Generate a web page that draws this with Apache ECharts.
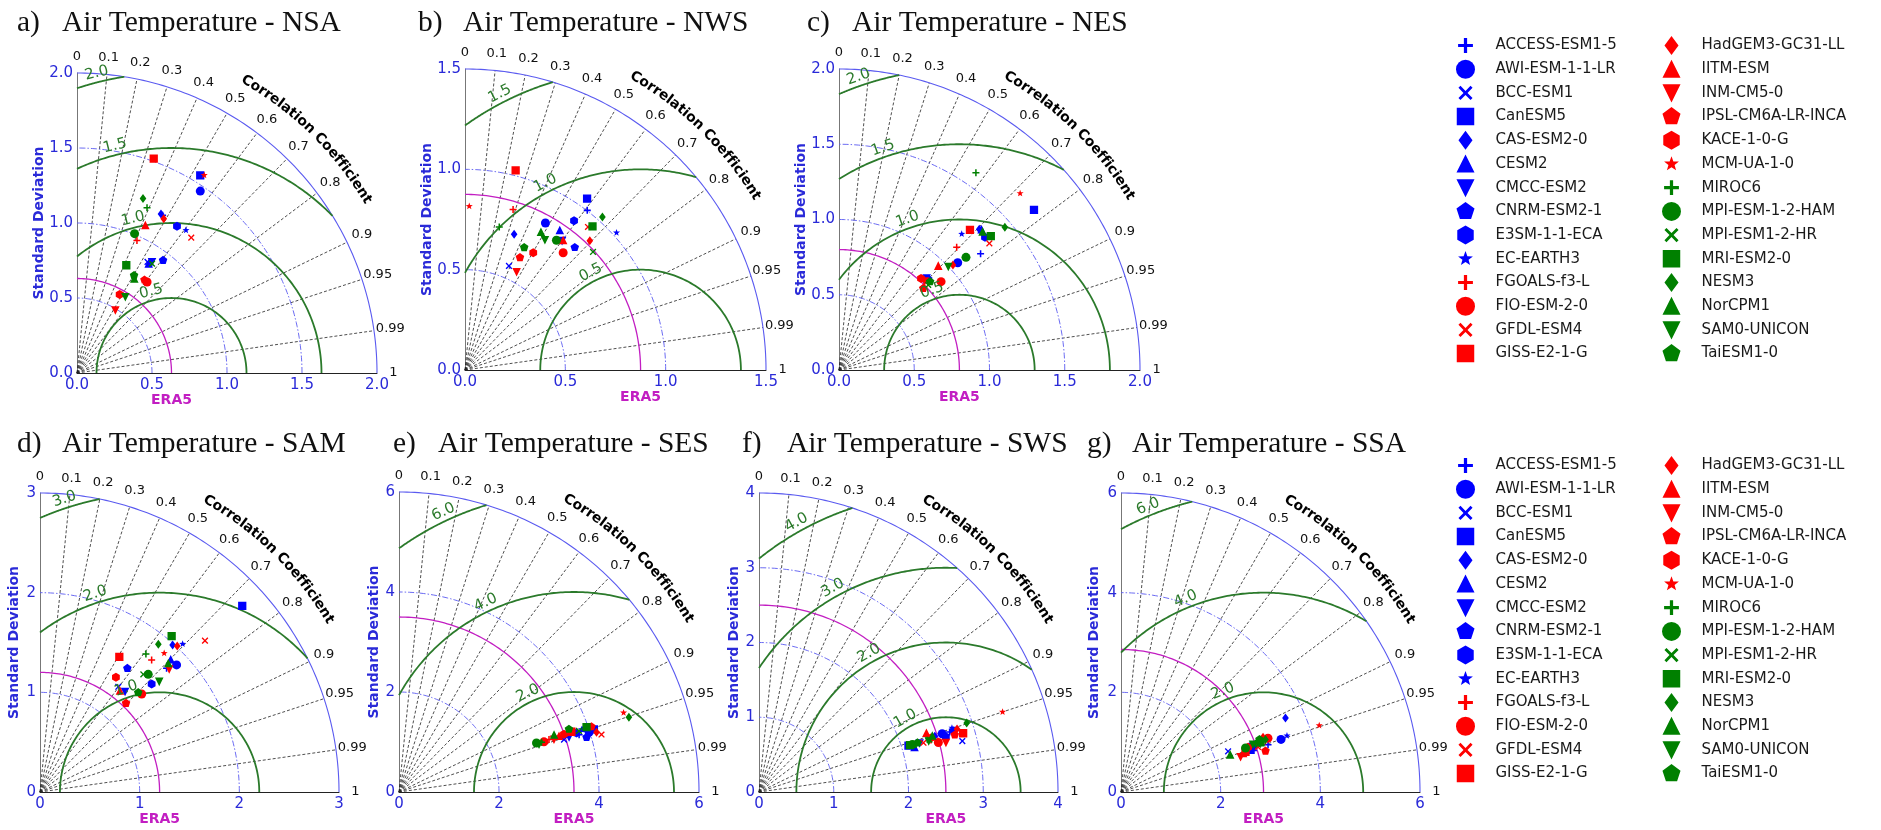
<!DOCTYPE html>
<html><head><meta charset="utf-8">
<script src="https://cdn.jsdelivr.net/npm/echarts@6/dist/echarts.min.js"></script>
<style>html,body{margin:0;padding:0;background:#fff}#c{width:1881px;height:830px}</style>
</head><body><div id="c"></div>
<script>
// ---------------- DATA ----------------
const MODELS = ['ACCESS-ESM1-5','AWI-ESM-1-1-LR','BCC-ESM1','CanESM5','CAS-ESM2-0','CESM2','CMCC-ESM2','CNRM-ESM2-1','E3SM-1-1-ECA','EC-EARTH3',
  'FGOALS-f3-L','FIO-ESM-2-0','GFDL-ESM4','GISS-E2-1-G','HadGEM3-GC31-LL','IITM-ESM','INM-CM5-0','IPSL-CM6A-LR-INCA','KACE-1-0-G','MCM-UA-1-0',
  'MIROC6','MPI-ESM-1-2-HAM','MPI-ESM1-2-HR','MRI-ESM2-0','NESM3','NorCPM1','SAM0-UNICON','TaiESM1-0'];
const MODEL_COLORS = ['#0000ff','#0000ff','#0000ff','#0000ff','#0000ff','#0000ff','#0000ff','#0000ff','#0000ff','#0000ff',
  '#ff0000','#ff0000','#ff0000','#ff0000','#ff0000','#ff0000','#ff0000','#ff0000','#ff0000','#ff0000',
  '#008000','#008000','#008000','#008000','#008000','#008000','#008000','#008000'];
const MODEL_MARKERS = ['plus','circle','x','square','thinDiamond','triUp','triDown','pentagon','hexagon','star',
  'plus','circle','x','square','thinDiamond','triUp','triDown','pentagon','hexagon','star',
  'plus','circle','x','square','thinDiamond','triUp','triDown','pentagon'];

const PANEL_LETTERS = ['a)','b)','c)','d)','e)','f)','g)'];
const PANEL_REGIONS = ['NSA','NWS','NES','SAM','SES','SWS','SSA'];
const REF_STD = [0.63, 0.875, 0.80, 1.2, 3.5, 2.5, 2.86];
const STD_MAX = [2, 1.5, 2, 3, 6, 4, 6];
const STD_STEP = [0.5, 0.5, 0.5, 1, 2, 1, 2];
const RMS_LEVELS = [[0.5,1.0,1.5,2.0],[0.5,1.0,1.5],[0.5,1.0,1.5,2.0],[1.0,2.0,3.0],[2.0,4.0,6.0],[1.0,2.0,3.0,4.0],[2.0,4.0,6.0]];
const CORR_TICKS = [0,0.1,0.2,0.3,0.4,0.5,0.6,0.7,0.8,0.9,0.95,0.99,1];
const CORR_LINES = [0.1,0.2,0.3,0.4,0.5,0.6,0.7,0.8,0.9,0.95,0.99];

// standard deviation and correlation of each model, per region (same order as MODELS)
const STD_NSA  = [1.196,1.465,0.877,1.553,1.199,0.872,0.893,0.945,1.184,1.197,0.970,0.766,1.181,1.518,1.180,1.085,0.490,0.766,0.596,1.568,1.197,1.005,0.884,0.790,1.243,0.736,0.600,0.753];
const CORR_NSA = [0.477,0.561,0.536,0.529,0.467,0.548,0.560,0.607,0.563,0.607,0.412,0.610,0.645,0.337,0.490,0.420,0.522,0.587,0.477,0.541,0.390,0.382,0.566,0.416,0.354,0.519,0.537,0.505];
const STD_NWS  = [1.002,0.835,0.563,1.049,0.720,0.842,0.805,0.820,0.921,1.019,0.835,0.762,0.940,1.026,0.895,0.811,0.552,0.624,0.676,0.816,0.733,0.791,0.868,0.957,1.025,0.785,0.760,0.678];
const CORR_NWS = [0.608,0.480,0.389,0.580,0.340,0.561,0.601,0.667,0.590,0.741,0.287,0.642,0.652,0.246,0.695,0.603,0.466,0.439,0.503,0.026,0.233,0.576,0.735,0.664,0.668,0.482,0.524,0.435];
const STD_NES  = [1.217,1.063,0.835,1.676,1.320,1.330,0.843,0.846,1.311,1.217,1.130,0.897,1.306,1.274,1.030,0.956,0.820,0.780,0.817,1.681,1.596,1.128,0.819,1.345,1.454,1.325,0.999,0.843];
const CORR_NES = [0.773,0.742,0.695,0.773,0.706,0.712,0.691,0.701,0.740,0.670,0.692,0.756,0.765,0.683,0.735,0.690,0.695,0.718,0.667,0.716,0.570,0.748,0.724,0.750,0.758,0.720,0.727,0.718];
const STD_SAM  = [1.776,1.872,1.316,2.757,1.986,1.868,1.319,1.519,1.558,2.062,1.734,1.417,2.246,1.573,2.010,1.294,1.788,1.240,1.380,1.868,1.745,1.604,1.571,2.048,1.900,1.823,1.630,1.402];
const CORR_SAM = [0.715,0.732,0.597,0.736,0.670,0.702,0.647,0.577,0.719,0.694,0.646,0.720,0.737,0.506,0.685,0.620,0.725,0.696,0.552,0.667,0.609,0.677,0.660,0.645,0.625,0.706,0.734,0.703];
const STD_SES  = [3.780,3.985,3.463,4.095,3.700,3.915,3.573,3.908,3.741,3.858,3.178,3.068,4.210,3.653,4.128,3.390,3.273,4.064,3.495,4.763,3.020,2.919,3.801,3.969,4.835,3.306,2.957,3.623];
const CORR_SES = [0.953,0.954,0.953,0.952,0.946,0.945,0.952,0.960,0.949,0.946,0.944,0.945,0.962,0.944,0.957,0.944,0.947,0.947,0.944,0.943,0.944,0.942,0.947,0.945,0.951,0.938,0.947,0.938];
const STD_SWS  = [2.673,2.571,2.804,2.094,2.467,2.165,2.246,2.726,2.607,2.720,2.404,2.489,2.297,2.842,2.780,2.375,2.586,2.728,2.410,3.430,2.195,2.148,2.385,2.116,2.928,2.438,2.370,2.220];
const CORR_SWS = [0.954,0.953,0.970,0.955,0.953,0.961,0.957,0.954,0.959,0.949,0.957,0.964,0.958,0.961,0.953,0.943,0.967,0.960,0.954,0.950,0.957,0.955,0.956,0.955,0.949,0.951,0.958,0.955];
const STD_SSA  = [3.099,3.380,2.299,2.735,3.619,2.799,2.679,2.862,2.758,3.517,3.074,3.141,2.894,2.625,3.055,2.571,2.500,3.014,2.704,4.196,2.872,2.650,2.909,2.973,3.084,2.315,2.815,2.972];
const CORR_SSA = [0.952,0.950,0.935,0.951,0.912,0.947,0.952,0.943,0.943,0.947,0.943,0.939,0.950,0.952,0.933,0.953,0.960,0.962,0.943,0.948,0.940,0.943,0.945,0.942,0.940,0.946,0.941,0.935];

const PANEL_STD  = [STD_NSA, STD_NWS, STD_NES, STD_SAM, STD_SES, STD_SWS, STD_SSA];
const PANEL_CORR = [CORR_NSA, CORR_NWS, CORR_NES, CORR_SAM, CORR_SES, CORR_SWS, CORR_SSA];

// ---------------- LAYOUT ----------------
const LAYOUT = [
  {ox:77,  oy:373, R:300, sdx:-38, tx:17,   ty:8,   rmsAng:104},
  {ox:465, oy:370, R:301, sdx:-38, tx:418,  ty:8,   rmsAng:117},
  {ox:839, oy:370, R:301, sdx:-38, tx:807,  ty:8,   rmsAng:109},
  {ox:40,  oy:792, R:299, sdx:-26, tx:17,   ty:429, rmsAng:108},
  {ox:399, oy:792, R:300, sdx:-25, tx:393,  ty:429, rmsAng:115},
  {ox:759, oy:792, R:299, sdx:-25, tx:742,  ty:429, rmsAng:119},
  {ox:1121,oy:792, R:299, sdx:-27, tx:1087, ty:429, rmsAng:112}
];
const C_BLUE = '#2a2ad8', C_STDARC = '#5a5af0', C_GREEN = '#2b7a2b', C_MAG = '#c21ec2';

// ---------------- SYMBOLS ----------------
function poly(pts){ return pts.map((p,i)=>(i?'L':'M')+p[0].toFixed(3)+','+p[1].toFixed(3)).join(' ')+' Z'; }
const PAD = ' M-1,-1 L-0.998,-1 L-1,-0.998 Z M1,1 L0.998,1 L1,0.998 Z';
function regular(n, r, start){ const a=[]; for(let k=0;k<n;k++){const t=(start+360*k/n)*Math.PI/180; a.push([r*Math.cos(t), r*Math.sin(t)]);} return a; }
function cross(a, t, rot){
  const b=[[-a,-t],[-t,-t],[-t,-a],[t,-a],[t,-t],[a,-t],[a,t],[t,t],[t,a],[-t,a],[-t,t],[-a,t]];
  const r=rot*Math.PI/180, c=Math.cos(r), s=Math.sin(r);
  return b.map(p=>[p[0]*c-p[1]*s, p[0]*s+p[1]*c]);
}
function starPts(ro, ri){ const a=[]; for(let k=0;k<10;k++){const t=(-90+36*k)*Math.PI/180, r=k%2?ri:ro; a.push([r*Math.cos(t), r*Math.sin(t)]);} return a; }
const SYMBOLS = {
  plus: 'path://'+poly(cross(0.78,0.17,0))+PAD,
  x: 'path://'+poly(cross(0.9,0.15,45))+PAD,
  circle: 'circle',
  square: 'path://'+poly([[-0.92,-0.92],[0.92,-0.92],[0.92,0.92],[-0.92,0.92]])+PAD,
  thinDiamond: 'path://'+poly([[0,-1],[0.74,0],[0,1],[-0.74,0]])+PAD,
  triUp: 'path://'+poly([[0,-1],[0.95,0.9],[-0.95,0.9]])+PAD,
  triDown: 'path://'+poly([[0,1],[0.95,-0.9],[-0.95,-0.9]])+PAD,
  pentagon: 'path://'+poly(regular(5,1,-90))+PAD,
  hexagon: 'path://'+poly(regular(6,1,-90))+PAD,
  star: 'path://'+poly(starPts(0.82,0.34))+PAD
};

// ---------------- BUILD ----------------
const measureCtx = document.createElement('canvas').getContext('2d');
const grids=[], xAxes=[], yAxes=[], series=[], titles=[];
const DEG = Math.PI/180;

LAYOUT.forEach((L, p) => {
  const M = STD_MAX[p], ref = REF_STD[p];
  const dec = STD_STEP[p] < 1 ? 1 : 0;
  grids.push({left:L.ox, top:L.oy-L.R, width:L.R, height:L.R});
  xAxes.push({gridIndex:p, type:'value', min:0, max:M, interval:STD_STEP[p],
    axisLine:{show:true, onZero:false, lineStyle:{color:'#222', width:1}}, axisTick:{show:false}, splitLine:{show:false},
    axisLabel:{show:true, showMinLabel:true, showMaxLabel:true, color:C_BLUE, fontSize:15, fontFamily:'DejaVu Sans', margin:5, formatter:v=>v.toFixed(dec)}});
  yAxes.push({gridIndex:p, type:'value', min:0, max:M, interval:STD_STEP[p],
    axisLine:{show:true, onZero:false, lineStyle:{color:'#777', width:1}}, axisTick:{show:false}, splitLine:{show:false},
    axisLabel:{show:true, showMinLabel:true, showMaxLabel:true, color:C_BLUE, fontSize:15, fontFamily:'DejaVu Sans', margin:4, formatter:v=>v.toFixed(dec)}});

  titles.push({left:L.tx, top:L.ty, padding:0,
    text:'{l|'+PANEL_LETTERS[p]+'}Air Temperature - '+PANEL_REGIONS[p],
    textStyle:{fontFamily:'Liberation Serif', fontSize:29.5, fontWeight:'normal', color:'#111',
      rich:{l:{width:45, fontFamily:'Liberation Serif', fontSize:29.5, color:'#111'}}}});

  // ---- line geometry in data space ----
  const lines = [];
  const arc = (r, a0, a1, n) => { const pts=[]; for(let i=0;i<=n;i++){const t=a0+(a1-a0)*i/n; pts.push([r*Math.cos(t), r*Math.sin(t)]);} return pts; };
  CORR_LINES.forEach(c => { const s=Math.sqrt(1-c*c); lines.push({pts:[[0,0],[M*c,M*s]], stroke:'#222', w:0.8, dash:[3,2]}); });
  for (let v = STD_STEP[p]; v < M - 1e-9; v += STD_STEP[p]) lines.push({pts:arc(v,0,Math.PI/2,90), stroke:C_STDARC, w:0.9, dash:[6,2,1.5,2]});
  lines.push({pts:arc(M,0,Math.PI/2,120), stroke:C_STDARC, w:1.1, dash:null});
  lines.push({pts:arc(ref,0,Math.PI/2,90), stroke:C_MAG, w:1.3, dash:null});
  RMS_LEVELS[p].forEach(Lv => {
    let c0 = (M*M - ref*ref - Lv*Lv)/(2*ref*Lv); c0 = Math.max(-1, Math.min(1, c0));
    const t0 = Math.acos(c0);
    const t1 = Lv <= ref ? Math.PI : Math.acos(-ref/Lv);
    const pts=[]; for(let i=0;i<=120;i++){const t=t0+(t1-t0)*i/120; pts.push([ref+Lv*Math.cos(t), Lv*Math.sin(t)]);}
    lines.push({pts, stroke:C_GREEN, w:1.8, dash:null});
  });
  series.push({type:'custom', xAxisIndex:p, yAxisIndex:p, silent:true, z:1, clip:false,
    data: lines.map(()=>[0,0]),
    renderItem:(params, api) => {
      const l = lines[params.dataIndex];
      return {type:'polyline', shape:{points:l.pts.map(q=>api.coord(q))},
        style:{stroke:l.stroke, lineWidth:l.w, lineDash:l.dash, fill:null}};
    }});

  // ---- texts ----
  const texts = [];
  CORR_TICKS.forEach(c => { const s=Math.sqrt(1-c*c), r=M*1.055;
    texts.push({x:r*c, y:r*s, dx:0, dy:0, text:String(c), rot:0, fill:'#111', font:'13px "DejaVu Sans"', align:'center', va:'middle'}); });
  const label = 'Correlation Coefficient', cfont = 'bold 14px "DejaVu Sans"';
  measureCtx.font = cfont;
  const widths = label.split('').map(ch => measureCtx.measureText(ch).width);
  const total = widths.reduce((a,b)=>a+b,0);
  const rPx = L.R*1.125, rD = M*1.125;
  let acc = 0; const phiC = 45.5*DEG;
  label.split('').forEach((ch,i) => {
    const mid = acc + widths[i]/2; acc += widths[i];
    const phi = phiC + (total/2 - mid)/rPx;
    if (ch !== ' ') texts.push({x:rD*Math.cos(phi), y:rD*Math.sin(phi), dx:0, dy:0, text:ch, rot:phi-Math.PI/2, fill:'#000', font:cfont, align:'center', va:'middle'});
  });
  RMS_LEVELS[p].forEach(Lv => { const t=L.rmsAng*DEG;
    texts.push({x:ref+Lv*Math.cos(t), y:Lv*Math.sin(t), dx:9*Math.cos(t), dy:-9*Math.sin(t), text:Lv.toFixed(1), rot:t-Math.PI/2, fill:C_GREEN, font:'15px "DejaVu Sans"', align:'center', va:'middle'}); });
  texts.push({x:0, y:M/2, dx:L.sdx, dy:0, text:'Standard Deviation', rot:Math.PI/2, fill:C_BLUE, font:'bold 14px "DejaVu Sans"', align:'center', va:'middle'});
  texts.push({x:ref, y:0, dx:0, dy:27, text:'ERA5', rot:0, fill:C_MAG, font:'bold 14px "DejaVu Sans"', align:'center', va:'middle'});
  series.push({type:'custom', xAxisIndex:p, yAxisIndex:p, silent:true, z:4, clip:false,
    data: texts.map(t=>[t.x, t.y]),
    renderItem:(params, api) => {
      const t = texts[params.dataIndex];
      const q = api.coord([api.value(0), api.value(1)]);
      return {type:'text', x:q[0]+t.dx, y:q[1]+t.dy, rotation:t.rot,
        style:{text:t.text, fill:t.fill, font:t.font, align:t.align, verticalAlign:t.va}};
    }});

  // ---- model markers ----
  MODELS.forEach((m, k) => {
    const sd = PANEL_STD[p][k], cr = PANEL_CORR[p][k];
    series.push({type:'scatter', name:m, xAxisIndex:p, yAxisIndex:p, z:3,
      symbol:SYMBOLS[MODEL_MARKERS[k]], symbolSize:9, symbolKeepAspect:true,
      itemStyle:{color:MODEL_COLORS[k], opacity:1},
      data:[[sd*cr, sd*Math.sqrt(1-cr*cr)]]});
  });
});

const legendBase = {orient:'vertical', padding:0, itemWidth:50, itemHeight:19, itemGap:4.7, selectedMode:false, symbolKeepAspect:true,
  textStyle:{fontFamily:'DejaVu Sans', fontSize:15, color:'#1a1a1a'}};
const legends = [
  Object.assign({}, legendBase, {left:1456, top:36, data:MODELS.slice(0,14)}),
  Object.assign({}, legendBase, {left:1662, top:36, data:MODELS.slice(14)}),
  Object.assign({}, legendBase, {left:1456, top:456, data:MODELS.slice(0,14)}),
  Object.assign({}, legendBase, {left:1662, top:456, data:MODELS.slice(14)})
];

const chart = echarts.init(document.getElementById('c'), null, {renderer:'canvas', width:1881, height:830});
chart.setOption({animation:false, backgroundColor:'#fff', title:titles, grid:grids, xAxis:xAxes, yAxis:yAxes, legend:legends, series});
</script></body></html>
